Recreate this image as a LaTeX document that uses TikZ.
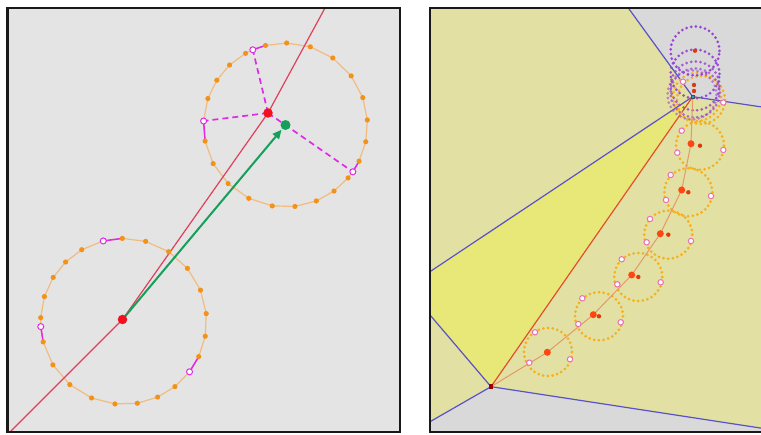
\documentclass[tikz,border=0pt]{standalone}
\usetikzlibrary{arrows.meta,calc}
\definecolor{lgray}{HTML}{E4E4E4}
\definecolor{lorange}{HTML}{F39218}
\definecolor{lhull}{HTML}{F0BC80}
\definecolor{lmag}{HTML}{E02AE6}
\definecolor{lred}{HTML}{F2101E}
\definecolor{lcrim}{HTML}{E0405A}
\definecolor{lgreen}{HTML}{14A05A}
\definecolor{vkhaki}{HTML}{E2E0A2}
\definecolor{vyel}{HTML}{E8E878}
\definecolor{vgray}{HTML}{D9D9DA}
\definecolor{vblue}{HTML}{5A52C6}
\definecolor{vorg}{HTML}{F6B01E}
\definecolor{vpur}{HTML}{9846D2}
\definecolor{vpink}{HTML}{E870B4}
\definecolor{vpath}{HTML}{E39A68}
\definecolor{vred}{HTML}{E2502A}
\definecolor{vdot}{HTML}{FF4612}
\tikzset{
  panel/.style={draw=black!90,line width=2.4pt},
  hull/.style={draw=lhull,line width=1.2pt},
  odot/.style={circle,fill=lorange,inner sep=0pt,minimum size=5.2pt},
  hollow/.style={circle,draw=lmag,fill=white,line width=1pt,inner sep=0pt,minimum size=6pt},
  mlink/.style={draw=lmag,line width=1.5pt},
  mdash/.style={draw=lmag,line width=1.7pt,dash pattern=on 6pt off 4pt},
  rline/.style={draw=lcrim,line width=1.2pt},
  rdot/.style={circle,fill=lred,inner sep=0pt,minimum size=9.5pt},
  gdot/.style={circle,fill=lgreen,inner sep=0pt,minimum size=10pt},
  garr/.style={-{Triangle[length=9pt,width=8pt]},draw=lgreen,fill=lgreen,line width=2pt,shorten >=1pt},
  vedge/.style={draw=vblue,line width=1.2pt},
  vline/.style={draw=vred,line width=1.2pt},
  vtrack/.style={draw=vpath,line width=1pt},
  ring/.style={draw=vorg,line width=3pt,line cap=round,dash pattern=on 0pt off 4.7pt},
  pring/.style={draw=vpur,line width=3pt,line cap=round,dash pattern=on 0pt off 4.7pt},
  vhole/.style={circle,draw=vpink,fill=white,line width=1pt,inner sep=0pt,minimum size=5.4pt},
  bdot/.style={circle,fill=vdot,inner sep=0pt,minimum size=7pt},
  sdot/.style={circle,fill=vdot!85!black,inner sep=0pt,minimum size=4.4pt},
}
\begin{document}
\begin{tikzpicture}[x=1pt,y=1pt]
\useasboundingbox (0,0) rectangle (761,435);
\fill[white] (0,0) rectangle (761,435);

% left panel: two sampled circles
\fill[lgray] (7.5,3) rectangle (400,427);
\coordinate (lc) at (123.6,113.6);
\coordinate (uc) at (285.5,310);
\foreach \a [count=\i] in {90.9,74.6,57.1,39.7,22.1,5.4,-10.3,-25.1,-37.4,-51.8,-65.8,-80.5,-96,-112.7,-130.4,-148.4,-165.7,-176.4,-182.6,-197.4,-212,-225.7,-239.7,-255.8}
  \coordinate (l\i) at ($(lc)+(\a:83)$);
\foreach \a [count=\i] in {89.2,72.4,54.8,36.8,19.5,3.5,-11.8,-26.2,-34.8,-40.2,-53.7,-67.9,-83.4,-99.3,-116.6,-134.4,-151.9,-168.7,-182.8,-198.8,-213.1,-227,-240.9,-246.5,-255.9}
  \coordinate (u\i) at ($(uc)+(\a:82)$);
\draw[hull] (l1) \foreach \i in {2,...,24}{ -- (l\i)} -- cycle;
\draw[hull] (u1) \foreach \i in {2,...,25}{ -- (u\i)} -- cycle;

\coordinate (la) at (10,3);
\coordinate (lb) at (325,427);
\coordinate (p1) at (122.5,115.5);
\coordinate (p2) at (268,322);
\draw[rline] (la) -- (p1) -- (p2) -- (lb);

\foreach \h/\n in {l24/l1,l18/l17,l9/l8,u24/u25,u19/u18,u9/u8} \draw[mlink] (\h) -- (\n);
\foreach \h in {u24,u19,u9} \draw[mdash] (p2) -- (\h);

\foreach \i in {1,2,3,4,5,6,7,8,10,11,12,13,14,15,16,17,19,20,21,22,23} \node[odot] (ld\i) at (l\i) {};
\foreach \i in {9,18,24} \node[hollow] (lh\i) at (l\i) {};
\foreach \i in {1,2,3,4,5,6,7,8,10,11,12,13,14,15,16,17,18,20,21,22,23,25} \node[odot] (ud\i) at (u\i) {};
\foreach \i in {9,19,24} \node[hollow] (uh\i) at (u\i) {};

\node[gdot] (g) at (uc) {};
\draw[garr] (p1) -- (g);
\node[rdot] (r1) at (p1) {};
\node[rdot] (r2) at (p2) {};

% right panel: cells and the chain of circles
\begin{scope}
\clip (430,3) rectangle (770,427);
\fill[vkhaki] (425,0) rectangle (770,432);
\coordinate (v1) at (692.7,338.3);
\coordinate (v2) at (491,48.3);
\coordinate (t1) at (624.7,432);
\coordinate (e1) at (770,326.8);
\coordinate (q1) at (425,160);
\coordinate (q2) at (425,125.9);
\coordinate (q3) at (425,10.4);
\coordinate (e2) at (770,5.5);
\fill[vgray] (t1) -- (v1) -- (e1) -- (770,432) -- cycle;
\fill[vgray] (q3) -- (v2) -- (e2) -- (770,0) -- (425,0) -- cycle;
\fill[vyel] (v1) -- (q1) -- (q2) -- (v2) -- cycle;
\foreach \a/\b in {t1/v1,v1/e1,v1/q1,q2/v2,v2/q3,v2/e2} \draw[vedge] (\a) -- (\b);
\draw[vline] (v2) -- (v1);

\foreach \n/\x/\y in {b1/547.3/82.7,b2/593.3/120.3,b3/631.7/160,b4/660.3/201.3,b5/681.7/245,b6/691/291.3}
  \coordinate (\n) at (\x,\y);
\foreach \n/\x/\y in {c1/548/83,c2/599/118.7,c3/638.3/158,c4/668.3/200.3,c5/688.3/242.7,c6/700/289.3,c7/697/338,c8/701/335}
  \coordinate (\n) at (\x,\y);
\foreach \c in {c1,c2,c3,c4,c5,c6,c7,c8} \draw[ring] (\c) circle (24);
\foreach \y/\o in {384/1,361/0.95,349/0.85,342/0.75} \draw[pring,draw opacity=\o] (695,\y) circle (24.5);
\draw[pring,draw opacity=0.6] (692,340) circle (24.5);

\draw[vtrack] (v2) -- (b1) -- (b2) -- (b3) -- (b4) -- (b5) -- (b6) -- (v1);

\foreach \x/\y [count=\k] in {535/102.7,529.3/72.3,570/75.7,582.3/136.7,578.3/111,620.7/112.7,621.7/175.7,617.3/150.7,660.7/152.7,650/216,646.7/192.7,691/194,670.7/260,666/235,711/239,681.7/304.3,677.3/282.3,723.3/285,683/353.3,723.3/332.5}
  \node[vhole] (h\k) at (\x,\y) {};
\foreach \c in {c2,c3,c4,c5,c6} \node[sdot] (s\c) at (\c) {};
\foreach \b in {b1,b2,b3,b4,b5,b6} \node[bdot] (d\b) at (\b) {};
\foreach \x/\y [count=\k] in {695/384.3,694/350,694/344}
  \node[sdot] (k\k) at (\x,\y) {};
\node[fill=red!60!black,inner sep=0pt,minimum size=4.5pt] (m2) at (v2) {};
\node[fill=cyan!80!teal,draw=black!70,line width=0.4pt,inner sep=0pt,minimum size=3.6pt] (m1) at (v1) {};
\end{scope}

\draw[panel] (7.5,3) rectangle (400,427);
\draw[panel] (430,3) rectangle (775,427);
\end{tikzpicture}
\end{document}
